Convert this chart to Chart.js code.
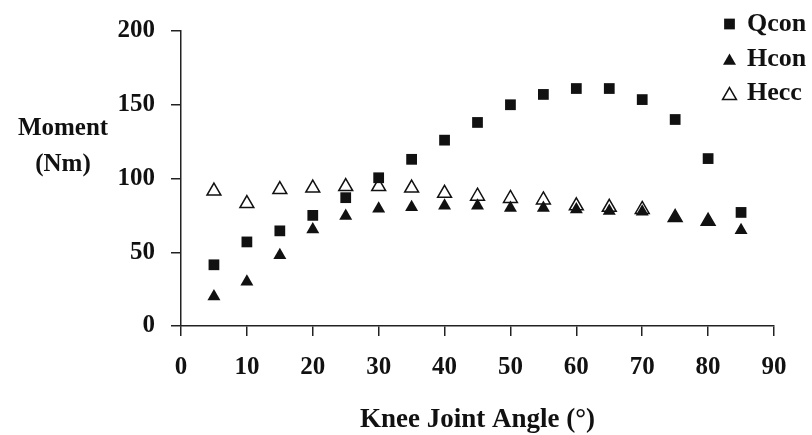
<!DOCTYPE html>
<html>
<head>
<meta charset="utf-8">
<script src="https://cdn.jsdelivr.net/npm/chart.js@4"></script>
<style>
html,body{margin:0;padding:0;background:#fff;}
#wrap{width:812px;height:435px;position:relative;}
canvas{display:block;}
</style>
</head>
<body>
<div id="wrap"><canvas id="c" width="812" height="435"></canvas></div>
<script>
// ---- data ----
const angles = [5, 10, 15, 20, 25, 30, 35, 40, 45, 50, 55, 60, 65, 70, 75, 80, 85];
const qcon = [41.5, 57, 64.5, 75, 87, 100.5, 113, 126, 138, 150, 157, 161, 161, 153.5, 140, 113.5, 77];
const hcon = [20, 30, 48, 65.5, 74.5, 79.5, 80.5, 81.5, 81.5, 80, 80, 79, 78, 77.5, 73.5, 71, 65];
const heccAngles = [5, 10, 15, 20, 25, 30, 35, 40, 45, 50, 55, 60, 65, 70, 75, 80];
const hecc = [91.5, 83, 92.5, 93.5, 94.5, 94.5, 93.5, 90, 88, 86.5, 85.5, 81.5, 80.5, 79, 73.5, 71];
const xTicks = [0, 10, 20, 30, 40, 50, 60, 70, 80, 90];
const yTicks = [0, 50, 100, 150, 200];
const seriesNames = ['Qcon', 'Hcon', 'Hecc'];
const xTitle = 'Knee Joint Angle (°)';
const yTitle = ['Moment', '(Nm)'];

const INK = '#111';
const FONT = '"Liberation Serif", "Times New Roman", serif';
Chart.defaults.font.family = FONT;
Chart.defaults.font.weight = 'bold';
Chart.defaults.color = INK;

const toPts = (xs, ys) => xs.map((x, i) => ({x: x, y: ys[i]}));

// y-axis title (horizontal, two lines) and legend drawn inside the figure
const extrasPlugin = {
  id: 'extras',
  afterDraw(chart) {
    const ctx = chart.ctx;
    ctx.save();
    ctx.fillStyle = INK;
    ctx.textBaseline = 'alphabetic';
    // y title
    ctx.textAlign = 'center';
    ctx.font = 'bold 25px ' + FONT;
    ctx.fillText(yTitle[0], 63, 135);
    ctx.fillText(yTitle[1], 63, 171);
    // legend
    const markY = [24, 61, 95.5];
    const textY = [31, 66, 100];
    ctx.font = 'bold 26px ' + FONT;
    ctx.textAlign = 'left';
    chart.data.datasets.forEach((ds, i) => {
      ctx.save();
      ctx.fillStyle = ds.backgroundColor;
      ctx.strokeStyle = ds.borderColor;
      ctx.lineWidth = ds.borderWidth;
      Chart.helpers.drawPoint(ctx, {
        pointStyle: ds.pointStyle,
        radius: ds.pointRadius,
        borderWidth: ds.borderWidth,
        rotation: 0
      }, 729.5, markY[i]);
      ctx.restore();
      ctx.fillText(ds.label, 747, textY[i]);
    });
    ctx.restore();
  }
};

const axisCommon = {
  grid: {display: true, drawOnChartArea: false, drawTicks: true, tickLength: 10, color: '#222', lineWidth: 1.5},
  border: {display: true, color: '#222', width: 1.5}
};

new Chart(document.getElementById('c'), {
  type: 'scatter',
  data: {
    datasets: [
      {label: seriesNames[0], data: toPts(angles, qcon), pointStyle: 'rect', pointRadius: 7.6,
       backgroundColor: INK, borderColor: INK, borderWidth: 0},
      {label: seriesNames[1], data: toPts(angles, hcon), pointStyle: 'triangle', pointRadius: 7.5,
       backgroundColor: INK, borderColor: INK, borderWidth: 0},
      {label: seriesNames[2], data: toPts(heccAngles, hecc), pointStyle: 'triangle', pointRadius: 8,
       backgroundColor: 'rgba(255,255,255,0)', borderColor: INK, borderWidth: 1.5}
    ]
  },
  options: {
    responsive: false,
    animation: false,
    events: [],
    layout: {padding: {top: 21, right: 38, left: 0, bottom: 0}},
    plugins: {legend: {display: false}, tooltip: {enabled: false}},
    scales: {
      x: Object.assign({}, axisCommon, {
        type: 'linear', min: 0, max: 90,
        afterBuildTicks: s => { s.ticks = xTicks.map(v => ({value: v})); },
        afterFit: s => { s.height = 109; },
        ticks: {padding: 17, color: INK, font: {size: 25, weight: 'bold'}},
        title: {display: true, text: xTitle, color: INK, padding: 0,
                font: {size: 27, weight: 'bold', lineHeight: 1.1}}
      }),
      y: Object.assign({}, axisCommon, {
        type: 'linear', min: 0, max: 200,
        afterBuildTicks: s => { s.ticks = yTicks.map(v => ({value: v})); },
        afterFit: s => { s.width = 181; },
        ticks: {padding: 16, color: INK, font: {size: 25, weight: 'bold'}}
      })
    }
  },
  plugins: [extrasPlugin]
});
</script>
</body>
</html>
